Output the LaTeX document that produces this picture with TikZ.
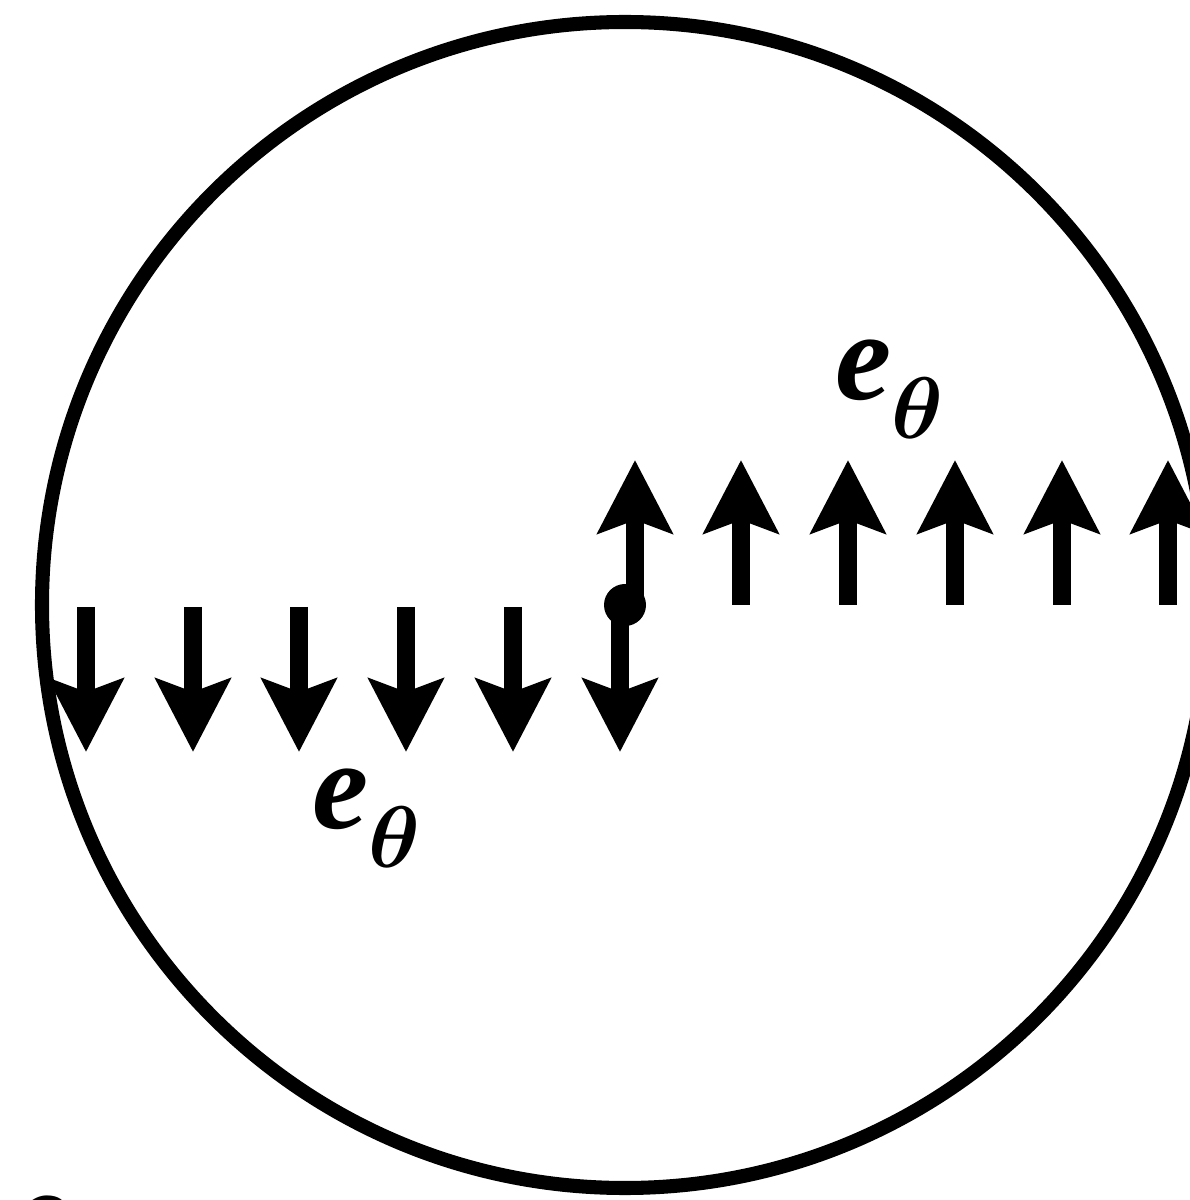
\documentclass[tikz,border=0pt]{standalone}
\usepackage{fontspec}
\setmainfont{Liberation Serif}
\usetikzlibrary{arrows.meta, positioning}

\newcommand{\etheta}{{\fontsize{36}{40}\selectfont\bfseries\itshape e}\kern0.01em\raisebox{-0.39cm}{\fontsize{37}{40}\selectfont\boldmath$\theta$}}

\begin{document}
\begin{tikzpicture}[>={Stealth[length=7.3mm, width=7.4mm, inset=1.3mm]}, line width=5.4pt,
  vec/.style={->},
  lbl/.style={inner sep=0pt, anchor=base west}]
  \useasboundingbox (0,0) rectangle (11.9,12);

  % Kruh
  \draw[line width=4pt] (6.25,5.95) circle (5.83);

  % Vektory dolu
  \foreach \x in {0.86, 1.93, 2.99, 4.06, 5.13, 6.20}
    \draw[vec] (\x,5.93) -- (\x,4.48);

  % Vektory nahoru
  \foreach \x in {6.35, 7.41, 8.48, 9.55, 10.62, 11.68}
    \draw[vec] (\x,5.95) -- (\x,7.40);

  % Bod
  \node[circle, fill, inner sep=0pt, minimum size=4.2mm] (origin) at (6.25,5.95) {};

  % Popisky
  \node[lbl] (lblup) at (8.26,8.00) {\etheta};
  \node[lbl] (lbldown) at (3.03,3.71) {\etheta};
  \node[lbl] (lblcut) at (0.03,-0.56) {\etheta};
\end{tikzpicture}
\end{document}
